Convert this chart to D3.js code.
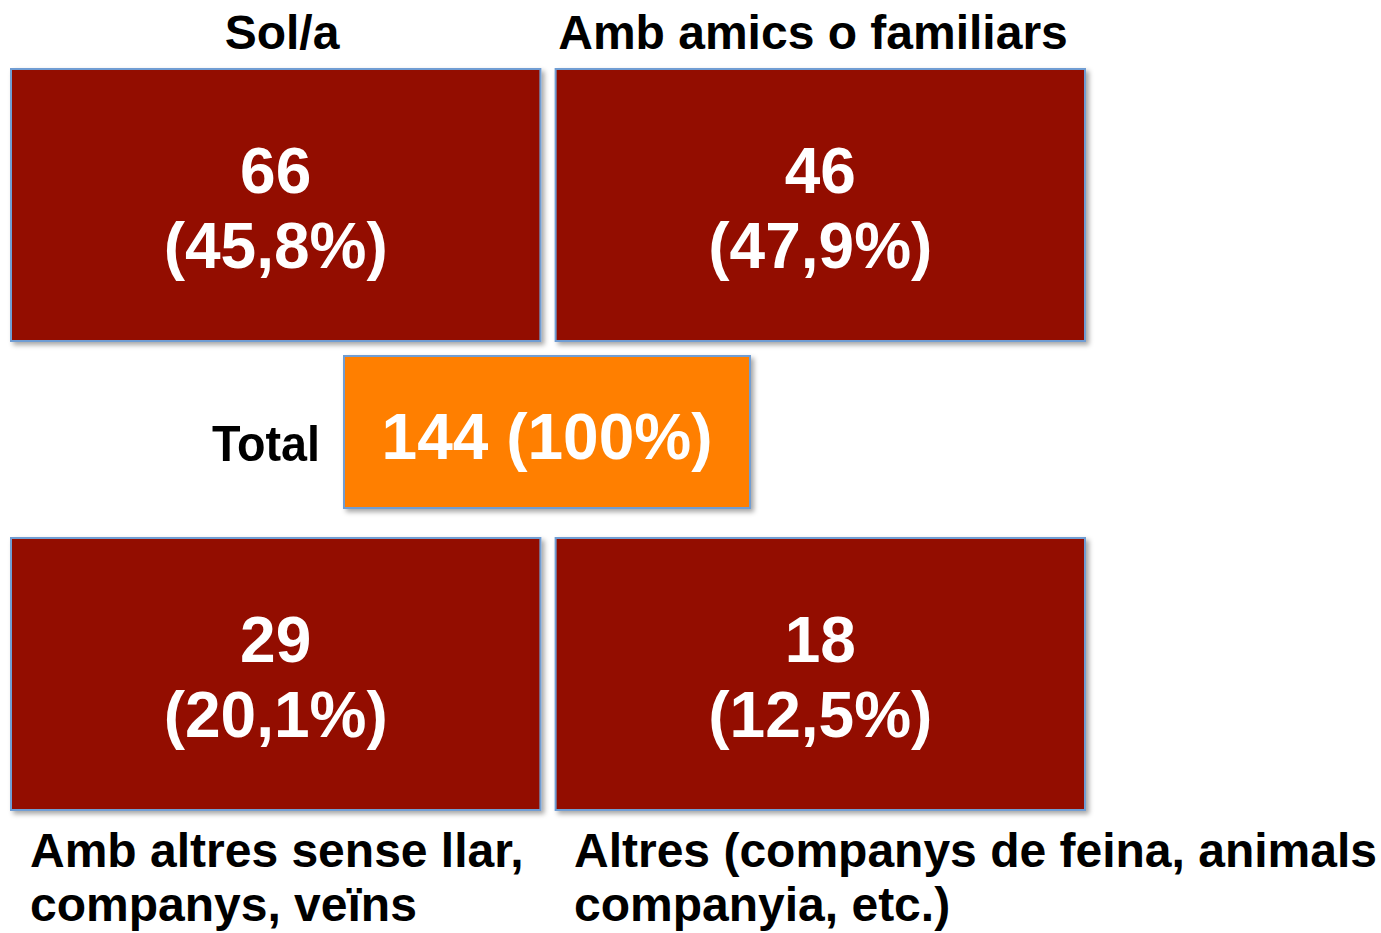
<!DOCTYPE html>
<html><head><meta charset="utf-8">
<script src="https://cdn.jsdelivr.net/npm/d3@7"></script>
<style>body{margin:0;background:#fff;overflow:hidden}svg{display:block}</style>
</head><body>
<script>
const categories = ["Sol/a", "Amb amics o familiars", "Amb altres sense llar,\ncompanys, veïns", "Altres (companys de feina, animals\ncompanyia, etc.)"];
const counts = [66, 46, 29, 18];
const percents = ["45,8%", "47,9%", "20,1%", "12,5%"];
const total = 144;
const totalPercent = "100%";
const totalLabel = "Total";

const W = 1381, H = 933;
const svg = d3.select("body").append("svg").attr("width", W).attr("height", H);
const defs = svg.append("defs");
const f = defs.append("filter").attr("id","sh").attr("x","-10%").attr("y","-10%").attr("width","130%").attr("height","130%");
f.append("feDropShadow").attr("dx",3).attr("dy",3).attr("stdDeviation",2.5).attr("flood-color","#000").attr("flood-opacity",0.35);

const font = "'Liberation Sans', Arial, sans-serif";
const col = d3.scaleBand().domain([0,1]).range([11,1085]).paddingInner(0.028);
const row = d3.scaleOrdinal().domain([0,1]).range([69,538]);
const boxH = 272;

const cells = categories.map((c,i)=>({c, n:counts[i], p:percents[i], col:i%2, row:Math.floor(i/2)}));

const g = svg.selectAll("g.cell").data(cells).join("g").attr("class","cell");
g.append("rect")
  .attr("x", d=>col(d.col)).attr("y", d=>row(d.row))
  .attr("width", col.bandwidth()).attr("height", boxH)
  .attr("fill","#931100").attr("stroke","#6f9dd3").attr("stroke-width",2)
  .attr("filter","url(#sh)");
g.append("text")
  .attr("x", d=>col(d.col)+col.bandwidth()/2).attr("y", d=>row(d.row)+124)
  .attr("text-anchor","middle").attr("fill","#fff").attr("font-family",font)
  .attr("font-weight","bold").attr("font-size",64).text(d=>d.n);
g.append("text")
  .attr("x", d=>col(d.col)+col.bandwidth()/2).attr("y", d=>row(d.row)+199)
  .attr("text-anchor","middle").attr("fill","#fff").attr("font-family",font)
  .attr("font-weight","bold").attr("font-size",64).text(d=>"("+d.p+")");

// titles
svg.selectAll("text.top").data(cells.filter(d=>d.row===0)).join("text").attr("class","top")
  .attr("x", (d,i)=> i===0 ? 282 : 813).attr("y", 49)
  .attr("text-anchor","middle").attr("font-family",font).attr("font-weight","bold")
  .attr("font-size",48).attr("fill","#000").text(d=>d.c);

// bottom labels
const bl = svg.selectAll("text.bot").data(cells.filter(d=>d.row===1)).join("text").attr("class","bot")
  .attr("x", (d,i)=> i===0 ? 30 : 574).attr("y", 867)
  .attr("font-family",font).attr("font-weight","bold").attr("font-size",48).attr("fill","#000");
bl.each(function(d){
  const t = d3.select(this);
  d.c.split("\n").forEach((line,k)=>{
    t.append("tspan").attr("x", t.attr("x")).attr("dy", k===0?0:54).text(line);
  });
});

// total
svg.append("rect").attr("x",344).attr("y",356).attr("width",406).attr("height",152)
  .attr("fill","#ff7f00").attr("stroke","#6f9dd3").attr("stroke-width",2).attr("filter","url(#sh)");
svg.append("text").attr("x",547).attr("y",459).attr("text-anchor","middle")
  .attr("font-family",font).attr("font-weight","bold").attr("font-size",64).attr("fill","#fff")
  .text(total+" ("+totalPercent+")");
svg.append("text").attr("x",212).attr("y",461)
  .attr("font-family",font).attr("font-weight","bold").attr("font-size",50).attr("fill","#000")
  .attr("textLength",108).attr("lengthAdjust","spacingAndGlyphs")
  .text(totalLabel);
</script>
</body></html>
